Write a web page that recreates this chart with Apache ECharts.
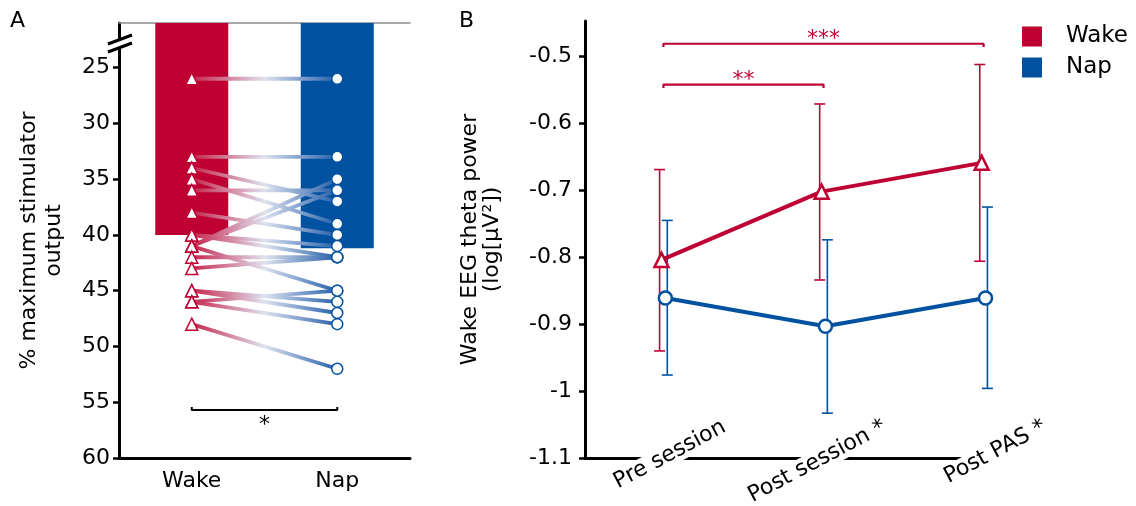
<!DOCTYPE html>
<html>
<head>
<meta charset="utf-8">
<script src="https://cdn.jsdelivr.net/npm/echarts@6/dist/echarts.min.js"></script>
<style>
  html, body { margin: 0; padding: 0; background: #fff; }
  #chart { width: 1136px; height: 506px; }
</style>
</head>
<body>
<div id="chart"></div>
<script>
// ---- panel A: motor threshold per subject ----
var groupsA = ['Wake', 'Nap'];
var meanA = [40, 41.2];
var wakeA = [26, 33, 34, 35, 36, 38, 40, 40, 41, 41, 41, 42, 43, 45, 45, 46, 46, 48];
var napA  = [26, 33, 37, 39, 36, 40, 41, 42, 35, 36, 45, 42, 42, 47, 46, 45, 48, 52];
var ticksA = [25, 30, 35, 40, 45, 50, 55, 60];

// ---- panel B: theta power ----
var sessions = ['Pre session', 'Post session *', 'Post PAS *'];
var wakeB   = [-0.804, -0.702, -0.659];
var wakeBLo = [-0.940, -0.834, -0.806];
var wakeBHi = [-0.669, -0.571, -0.512];
var napB    = [-0.861, -0.903, -0.861];
var napBLo  = [-0.976, -1.033, -0.996];
var napBHi  = [-0.745, -0.774, -0.725];
var ticksB = [-1.1, -1, -0.9, -0.8, -0.7, -0.6, -0.5];

var RED = '#be0032', BLUE = '#0052a0';
var FONT = '"DejaVu Sans", "Liberation Sans", sans-serif';
var FS = 22;

var chart = echarts.init(document.getElementById('chart'));

function grad() {
  return new echarts.graphic.LinearGradient(0, 0, 1, 0, [
    { offset: 0, color: '#c41d45' },
    { offset: 0.5, color: '#dfe2ef' },
    { offset: 1, color: '#1d5aa8' }
  ]);
}

function starLabel(xAxisIndex, yAxisIndex, x, y, text, color, dy) {
  return {
    type: 'scatter', xAxisIndex: xAxisIndex, yAxisIndex: yAxisIndex, symbolSize: 0,
    clip: false, silent: true, z: 5, itemStyle: { opacity: 1 },
    data: [[x, y]],
    label: {
      show: true, formatter: text, position: 'inside', offset: [0, dy],
      fontSize: FS, color: color, fontFamily: FONT
    }
  };
}

var series = [];

// bars (means)
series.push({
  type: 'bar', xAxisIndex: 0, yAxisIndex: 0, barWidth: 73, clip: true, z: 1,
  data: meanA.map(function (v, i) {
    return { value: v, itemStyle: { color: i === 0 ? RED : BLUE } };
  })
});

// subject lines
wakeA.forEach(function (w, i) {
  series.push({
    type: 'line', xAxisIndex: 1, yAxisIndex: 0, silent: true, z: 2,
    showSymbol: false, symbol: 'none',
    lineStyle: { width: 3.8, color: grad() },
    data: [[0, w], [1, napA[i]]]
  });
});

series.push({
  type: 'scatter', xAxisIndex: 1, yAxisIndex: 0, z: 4, symbol: 'triangle', symbolSize: 12,
  itemStyle: { color: '#fff', borderColor: RED, borderWidth: 1.5, opacity: 1 },
  data: wakeA.map(function (v) { return [0, v]; })
});
series.push({
  type: 'scatter', xAxisIndex: 1, yAxisIndex: 0, z: 4, symbol: 'circle', symbolSize: 11,
  itemStyle: { color: '#fff', borderColor: BLUE, borderWidth: 1.5, opacity: 1 },
  data: napA.map(function (v) { return [1, v]; })
});

// significance bracket A
series.push({
  type: 'line', xAxisIndex: 1, yAxisIndex: 0, symbol: 'none', z: 3, silent: true,
  lineStyle: { color: '#000', width: 2 },
  data: [[0, 55.43], [0, 55.7], [1, 55.7], [1, 55.43]]
});
series.push(starLabel(1, 0, 0.5, 55.7, '*', '#000', 15));

// ---- panel B ----
function errSeries(vals, lo, hi, color, dx) {
  return {
    type: 'custom', xAxisIndex: 2, yAxisIndex: 1, z: 2, silent: true,
    data: vals.map(function (v, i) { return [i + dx, lo[i], hi[i]]; }),
    renderItem: function (params, api) {
      var top = api.coord([api.value(0), api.value(2)]);
      var bot = api.coord([api.value(0), api.value(1)]);
      var hw = 5.5;
      var st = { stroke: color, lineWidth: 1.6 };
      return {
        type: 'group',
        children: [
          { type: 'line', shape: { x1: top[0], y1: top[1], x2: bot[0], y2: bot[1] }, style: st },
          { type: 'line', shape: { x1: top[0] - hw, y1: top[1], x2: top[0] + hw, y2: top[1] }, style: st },
          { type: 'line', shape: { x1: bot[0] - hw, y1: bot[1], x2: bot[0] + hw, y2: bot[1] }, style: st }
        ]
      };
    }
  };
}
series.push(errSeries(wakeB, wakeBLo, wakeBHi, RED, -0.024));
series.push(errSeries(napB, napBLo, napBHi, BLUE, 0.024));

series.push({
  name: 'Wake', type: 'line', xAxisIndex: 2, yAxisIndex: 1, z: 4,
  symbol: 'triangle', symbolSize: 14,
  lineStyle: { color: RED, width: 4 },
  itemStyle: { color: '#fff', borderColor: RED, borderWidth: 2.5 },
  data: wakeB.map(function (v, i) { return [i - 0.012, v]; })
});
series.push({
  name: 'Nap', type: 'line', xAxisIndex: 2, yAxisIndex: 1, z: 4,
  symbol: 'circle', symbolSize: 13,
  lineStyle: { color: BLUE, width: 4 },
  itemStyle: { color: '#fff', borderColor: BLUE, borderWidth: 2.5 },
  data: napB.map(function (v, i) { return [i + 0.012, v]; })
});

function bracket(x0, x1, y, yEnd) {
  return {
    type: 'line', xAxisIndex: 2, yAxisIndex: 1, symbol: 'none', z: 3, silent: true,
    lineStyle: { color: RED, width: 2.2 },
    data: [[x0, yEnd], [x0, y], [x1, y], [x1, yEnd]]
  };
}
series.push(bracket(0, 1, -0.542, -0.547));
series.push(starLabel(2, 1, 0.5, -0.542, '**', RED, -4));
series.push(bracket(0, 2, -0.481, -0.486));
series.push(starLabel(2, 1, 1, -0.481, '***', RED, -4));

// rotated category labels for panel B, cut into the axis line
series.push({
  type: 'scatter', xAxisIndex: 2, yAxisIndex: 1, symbolSize: 0, clip: false, silent: true, z: 5,
  itemStyle: { opacity: 1 },
  data: sessions.map(function (s, i) { return { name: s, value: [i, -1.1] }; }),
  label: {
    show: true, formatter: '{b}', position: [0, 0], align: 'right', verticalAlign: 'middle',
    rotate: 28, offset: [72, 0], fontSize: FS, color: '#000', fontFamily: FONT,
    backgroundColor: '#fff', padding: [0, 3]
  }
});

var option = {
  animation: false,
  textStyle: { fontFamily: FONT },
  grid: [
    { left: 119, top: 23, width: 291, height: 435 },
    { left: 585, top: 21, width: 405, height: 437 }
  ],
  legend: {
    left: 1022, top: 25, orient: 'vertical', icon: 'rect', itemWidth: 20, itemHeight: 20, itemGap: 8,
    padding: 0, selectedMode: false,
    textStyle: { fontSize: 23, color: '#000', fontFamily: FONT, rich: { sp: { width: 19 } } },
    formatter: function (n) { return '{sp|}' + n; },
    data: [
      { name: 'Wake', itemStyle: { color: RED, borderWidth: 0 } },
      { name: 'Nap', itemStyle: { color: BLUE, borderWidth: 0 } }
    ]
  },
  xAxis: [
    {
      type: 'category', gridIndex: 0, data: groupsA,
      axisLine: { onZero: false, lineStyle: { color: '#000', width: 3 } },
      axisTick: { alignWithLabel: true, length: 5, lineStyle: { color: '#000', width: 3 } },
      axisLabel: { fontSize: FS, color: '#000', margin: 12, fontFamily: FONT }
    },
    {
      type: 'value', gridIndex: 0, position: 'top', min: -0.5, max: 1.5,
      axisLine: { show: true, onZero: false, lineStyle: { color: '#8c8c8c', width: 1.5 } },
      axisTick: { show: false }, axisLabel: { show: false }, splitLine: { show: false }
    },
    {
      type: 'value', gridIndex: 1, min: -0.49, max: 2.04,
      axisLine: { show: true, onZero: false, lineStyle: { color: '#000', width: 3 } },
      axisTick: { show: false }, axisLabel: { show: false }, splitLine: { show: false }
    }
  ],
  yAxis: [
    {
      type: 'value', gridIndex: 0, inverse: true, min: 21, max: 60,
      name: '% maximum stimulator\noutput', nameLocation: 'middle', nameRotate: 90, nameGap: 52,
      nameTextStyle: { fontSize: FS, color: '#000', lineHeight: 25, fontFamily: FONT },
      axisLine: { show: true, onZero: false, lineStyle: { color: '#000', width: 3 } },
      axisTick: { show: true, customValues: ticksA, length: 6, lineStyle: { color: '#000', width: 2.5 } },
      axisLabel: { customValues: ticksA, fontSize: FS, color: '#000', margin: 9, fontFamily: FONT },
      splitLine: { show: false }
    },
    {
      type: 'value', gridIndex: 1, min: -1.1, max: -0.447,
      name: 'Wake EEG theta power\n(log[\u00b5V\u00b2])', nameLocation: 'middle', nameRotate: 90, nameGap: 82,
      nameTextStyle: { fontSize: FS, color: '#000', lineHeight: 22, fontFamily: FONT },
      axisLine: { show: true, onZero: false, lineStyle: { color: '#000', width: 3 } },
      axisTick: { show: true, customValues: ticksB, length: 6, lineStyle: { color: '#000', width: 2.5 } },
      axisLabel: {
        customValues: ticksB, fontSize: FS, color: '#000', margin: 13, fontFamily: FONT,
        formatter: function (v) { return String(Math.round(v * 100) / 100); }
      },
      splitLine: { show: false }
    }
  ],
  graphic: [
    { type: 'text', left: 10, top: 10, style: { text: 'A', fontSize: FS, fill: '#000', fontFamily: FONT } },
    { type: 'text', left: 459, top: 10, style: { text: 'B', fontSize: FS, fill: '#000', fontFamily: FONT } },
    // axis break marks on panel A
    { type: 'polygon', z: 100, shape: { points: [[115, 41], [124, 38], [124, 47], [115, 50]] }, style: { fill: '#fff' } },
    { type: 'line', z: 101, shape: { x1: 108, y1: 44, x2: 132, y2: 35 }, style: { stroke: '#000', lineWidth: 3 } },
    { type: 'line', z: 101, shape: { x1: 108, y1: 52, x2: 132, y2: 43 }, style: { stroke: '#000', lineWidth: 3 } }
  ],
  series: series
};

chart.setOption(option);
</script>
</body>
</html>
